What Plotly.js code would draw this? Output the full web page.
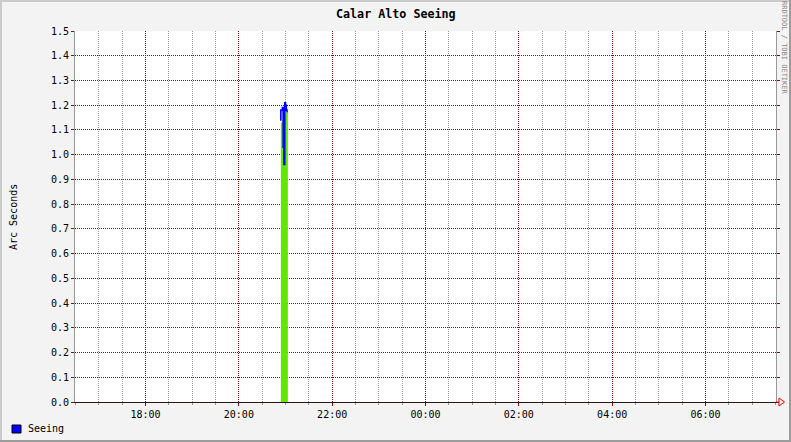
<!DOCTYPE html>
<html>
<head>
<meta charset="utf-8">
<script src="https://cdn.plot.ly/plotly-3.0.1.min.js"></script>
<style>
html,body{margin:0;padding:0;background:#f3f3f3;}
#chart{width:791px;height:442px;}
</style>
</head>
<body>
<div id="chart"></div>
<script>
// ---- data ----
const day = '2012-03-10 ';
const seeingTimes = ['20:53','20:54','20:55','20:56','20:57','20:58','20:59','21:00','21:01','21:02'];
const seeingValues = [1.14, 1.18, 1.18, 1.19, 1.03, 0.96, 1.21, 1.20, 1.18, 1.17];
const areaTimes = ['20:54','20:55','20:56','20:57','20:58','20:59','21:00','21:01','21:02','21:03'];
const areaValues = [1.13, 1.13, 1.14, 1.15, 1.16, 1.17, 1.17, 1.17, 1.17, 1.17];
const xRange = ['2012-03-10 16:29:20', '2012-03-11 07:30:40'];
const yTicks = [0.0,0.1,0.2,0.3,0.4,0.5,0.6,0.7,0.8,0.9,1.0,1.1,1.2,1.3,1.4,1.5];

const W = 791, H = 442, L = 75, R = 15, T = 31, B = 40;
const pw = W - L - R, ph = H - T - B;
const px = v => (v - L) / pw;
const py = v => (H - B - v) / ph;

const mono = 'DejaVu Sans Mono, monospace';
const majorCol = '#8b0a0a';
const minorCol = '#9a9a9a';

const traces = [
  {
    x: areaTimes.map(t => day + t), y: areaValues,
    type: 'scatter', mode: 'lines', line: {width: 0, shape: 'hv'},
    fill: 'tozeroy', fillcolor: '#60e800', hoverinfo: 'skip', showlegend: false
  },
  {
    x: seeingTimes.map(t => day + t), y: seeingValues,
    type: 'scatter', mode: 'lines', line: {width: 1.6, color: '#0000ff', shape: 'hv'},
    name: 'Seeing', showlegend: false
  }
];

const shapes = [
  // frame
  {type:'rect', xref:'paper', yref:'paper', x0:px(0), x1:px(2), y0:py(0), y1:py(H), fillcolor:'#cbcbcb', line:{width:0}, layer:'above'},
  {type:'rect', xref:'paper', yref:'paper', x0:px(0), x1:px(W), y0:py(0), y1:py(2), fillcolor:'#cbcbcb', line:{width:0}, layer:'above'},
  {type:'rect', xref:'paper', yref:'paper', x0:px(W-2), x1:px(W), y0:py(0), y1:py(H), fillcolor:'#9c9c9c', line:{width:0}, layer:'above'},
  {type:'rect', xref:'paper', yref:'paper', x0:px(0), x1:px(W), y0:py(H-2), y1:py(H), fillcolor:'#9c9c9c', line:{width:0}, layer:'above'},
  // arrow
  {type:'path', xref:'paper', yref:'paper',
   path:`M ${px(776)} ${py(402)} L ${px(779)} ${py(402)} M ${px(779)} ${py(398)} L ${px(784.5)} ${py(402)} L ${px(779)} ${py(406)} Z`,
   line:{color:'#ff0000', width:1}, fillcolor:'#f3f3f3', layer:'above'},
  // legend square
  {type:'rect', xref:'paper', yref:'paper', x0:px(12), x1:px(21), y0:py(433), y1:py(425),
   fillcolor:'#0000ff', line:{color:'#000', width:1}, layer:'above'}
];

const annotations = [
  {text:'Calar Alto Seeing', xref:'paper', yref:'paper', x:px(396), y:py(14), showarrow:false,
   xanchor:'center', yanchor:'middle', font:{family:mono, size:11.7, color:'#000', weight:'bold'}},
  {text:'Arc Seconds', xref:'paper', yref:'paper', x:px(13), y:py(217), showarrow:false, textangle:-90,
   xanchor:'center', yanchor:'middle', font:{family:mono, size:10, color:'#000'}},
  {text:'RRDTOOL / TOBI OETIKER', xref:'paper', yref:'paper', x:px(784), y:py(48), showarrow:false, textangle:90,
   xanchor:'center', yanchor:'middle', font:{family:mono, size:7, color:'#8a8a8a'}},
  {text:'Seeing', xref:'paper', yref:'paper', x:px(26), y:py(428.5), showarrow:false,
   xanchor:'left', yanchor:'middle', font:{family:mono, size:10, color:'#000'}}
];

const layout = {
  width: W, height: H,
  margin: {l: L, r: R, t: T, b: B, pad: 0},
  paper_bgcolor: '#f3f3f3', plot_bgcolor: '#ffffff',
  font: {family: mono, size: 10, color: '#000'},
  showlegend: false,
  xaxis: {
    type: 'date', range: xRange, tickformat: '%H:%M',
    tick0: '2012-03-10 18:00', dtick: 7200000,
    showgrid: true, gridcolor: majorCol, griddash: '1px,1px', gridwidth: 1,
    ticks: 'outside', ticklen: 3, tickcolor: majorCol,
    showline: true, linecolor: '#2a1515', linewidth: 1,
    zeroline: false, fixedrange: true,
    minor: {dtick: 1800000, tick0: '2012-03-10 18:00', showgrid: true, gridcolor: minorCol,
            griddash: '1px,1px', ticks: 'outside', ticklen: 2, tickcolor: minorCol}
  },
  yaxis: {
    range: [0, 1.5], tickmode: 'array', tickvals: yTicks, ticktext: yTicks.map(v => v.toFixed(1)),
    showgrid: true, gridcolor: majorCol, griddash: '1px,1px', gridwidth: 1,
    ticks: 'outside', ticklen: 3, tickcolor: majorCol,
    showline: true, linecolor: '#999999', linewidth: 1, mirror: 'ticks',
    zeroline: false, fixedrange: true
  },
  shapes: shapes,
  annotations: annotations
};

Plotly.newPlot('chart', traces, layout, {displayModeBar: false, staticPlot: true});
</script>
</body>
</html>
